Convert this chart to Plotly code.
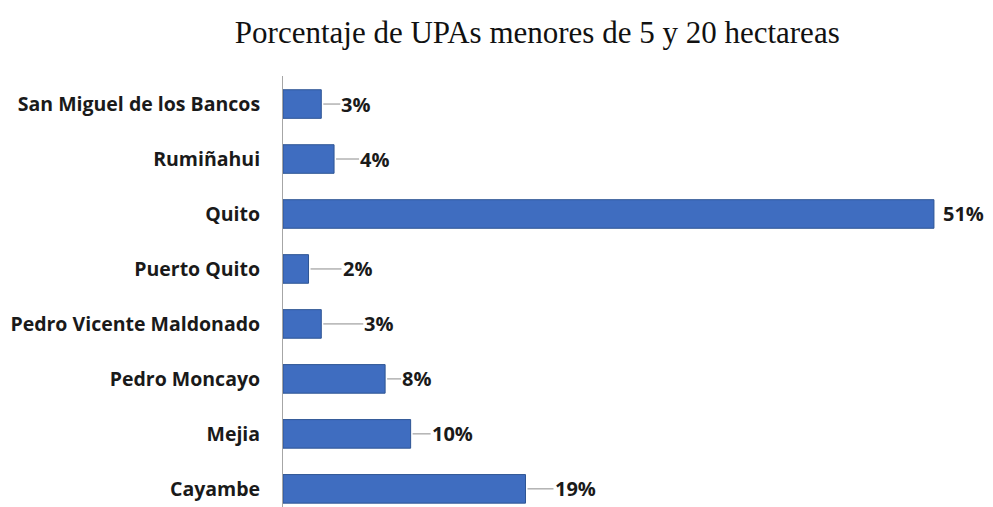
import plotly.graph_objects as go

# datos (de abajo hacia arriba)
cantones = ["Cayambe", "Mejia", "Pedro Moncayo", "Pedro Vicente Maldonado",
            "Puerto Quito", "Quito", "Rumiñahui", "San Miguel de los Bancos"]
porcentajes = [19, 10, 8, 3, 2, 51, 4, 3]
etiquetas = [f"{p}%" for p in porcentajes]

titulo = "Porcentaje de UPAs menores de 5 y 20 hectareas"

# separacion (px) entre la barra y su etiqueta, como en el original
separacion = [28, 20, 16, 42, 33, 8, 25, 19]


def make_plot():
    fig = go.Figure()
    fig.add_trace(go.Bar(
        x=porcentajes, y=cantones, orientation="h",
        width=0.52,
        marker=dict(color="#3F6DC0", line=dict(color="#2E5594", width=1)),
        hoverinfo="skip",
    ))

    # etiquetas con linea guia (Quito sin linea)
    for c, p, t, s in zip(cantones, porcentajes, etiquetas, separacion):
        con_linea = p < 40
        fig.add_annotation(
            x=p, y=c, text=f"<b>{t}</b>",
            showarrow=con_linea, arrowhead=0, arrowwidth=1, arrowcolor="#8c8c8c",
            ax=s, ay=0, xshift=0 if con_linea else s,
            xanchor="left", standoff=2, borderpad=0,
            font=dict(family="Open Sans", size=20, color="#1a1a1a"),
        )

    # la pagina agrega 8px de margen, por eso se restan aqui
    fig.update_layout(
        width=993, height=507,
        margin=dict(l=275, r=16, t=68, b=8),
        paper_bgcolor="white", plot_bgcolor="white",
        showlegend=False,
        title=dict(text=titulo, x=0.533, xanchor="center", y=0.953, yanchor="middle",
                   font=dict(family="Liberation Serif", size=31, color="#111")),
    )
    fig.update_xaxes(range=[0, 55], visible=False)
    fig.update_yaxes(
        range=[-0.33, 7.51], showline=True, linecolor="#a6a6a6", linewidth=1,
        ticks="", showgrid=False, ticklabelstandoff=18, automargin=False,
        tickfont=dict(family="Open Sans", size=19.5, color="#1a1a1a", weight="bold"),
    )
    return fig


if __name__ == "__main__":
    fig = make_plot()
    fig.write_html("out.html")
